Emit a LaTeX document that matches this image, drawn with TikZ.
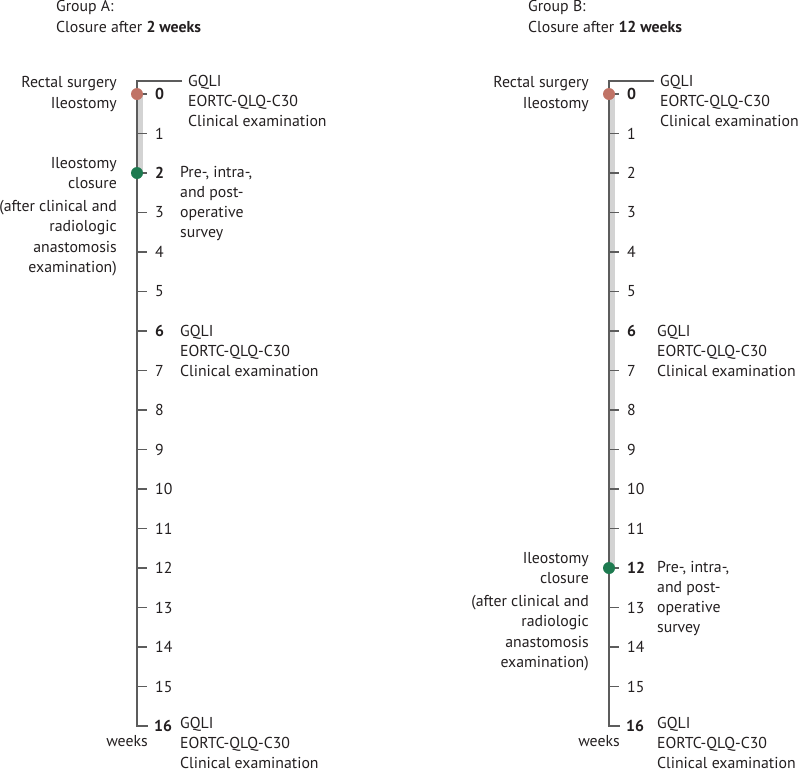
\documentclass[tikz,border=0pt]{standalone}
\usepackage{fontspec}
\setmainfont{PT Sans}
\usetikzlibrary{positioning}
\definecolor{surgeryred}{HTML}{C07366}
\definecolor{closuregreen}{HTML}{1E7A50}
\definecolor{axisgray}{HTML}{5C5C5C}
\definecolor{intervalgray}{HTML}{D3D3D3}
\definecolor{textgray}{HTML}{231F20}

\begin{document}
\begin{tikzpicture}[
    x=1pt, y=-1pt,
    every node/.style={inner sep=0pt, text=textgray, font=\fontsize{15.8}{20.3}\selectfont},
    axisline/.style={draw=axisgray, line width=1.3pt},
    interval/.style={draw=intervalgray, line width=5pt},
    milestone/.style={circle, fill=#1, minimum size=12pt},
    weeknum/.style={anchor=west},
    event/.style={anchor=east, align=right},
    measure/.style={anchor=west, align=left},
]
\useasboundingbox (0,0) rectangle (800,772);

\foreach \g/\ax/\cw/\mx in {A/137/2/43, B/609/12/48} {
    \pgfmathsetmacro{\yc}{94+39.5*\cw}

    \node[measure] (\g-title) at (\ax-81, 16.5) {Group \g:\\Closure after \textbf{\cw\ weeks}};

    % time axis
    \coordinate (\g-top) at (\ax+45, 81);
    \coordinate (\g-corner) at (\ax, 81);
    \coordinate (\g-end) at (\ax, 726);
    \draw[interval] (\ax+3.5, 94) -- (\ax+3.5, \yc);
    \draw[axisline] (\g-top) -- (\g-corner) -- (\g-end) -- ++(11,0);
    \foreach \k in {0,...,15} {
        \pgfmathtruncatemacro{\isbold}{(\k==0)||(\k==6)||(\k==\cw)}
        \draw[axisline] (\ax, 94+39.5*\k) -- ++(10,0);
        \node[weeknum] (\g-w\k) at (\ax+18, 94+39.5*\k) {\ifnum\isbold=1\bfseries\fi\k};
    }
    \node[weeknum] (\g-w16) at (\ax+17, 726) {\bfseries 16};
    \node[anchor=east] (\g-weeks) at (\ax+11, 741) {weeks};

    % milestones
    \node[milestone=surgeryred] (\g-surgery) at (\ax, 94) {};
    \node[milestone=closuregreen] (\g-closure) at (\ax, \yc) {};

    \node[event] (\g-rectal) at (\ax-20, 94) {Rectal surgery\\Ileostomy};
    \node[event] (\g-ileo) at (\ax-20, \yc) {Ileostomy\\closure};
    \node[event] (\g-cond) at (\ax-20, \yc+65) {(after clinical and\\radiologic\\anastomosis\\examination)};

    % assessments
    \node[measure] (\g-q0) at (\ax+51, 101) {GQLI\\EORTC-QLQ-C30\\Clinical examination};
    \node[measure] (\g-survey) at (\ax+\mx, \yc+30.5) {Pre-, intra-,\\and post-\\operative\\survey};
    \node[measure] (\g-q6) at (\ax+\mx, 351) {GQLI\\EORTC-QLQ-C30\\Clinical examination};
    \node[measure] (\g-q16) at (\ax+\mx, 743) {GQLI\\EORTC-QLQ-C30\\Clinical examination};
}

\end{tikzpicture}
\end{document}
